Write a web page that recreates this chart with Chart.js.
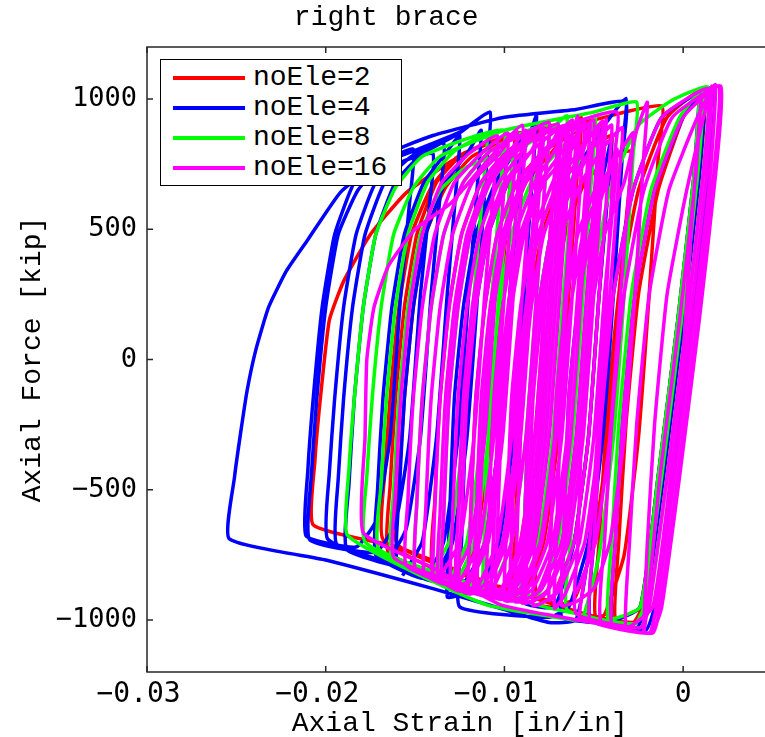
<!DOCTYPE html>
<html>
<head>
<meta charset="utf-8">
<title>right brace</title>
<script src="https://cdn.jsdelivr.net/npm/chart.js@4.4.1/dist/chart.umd.min.js"></script>
<style>
    html, body { margin: 0; padding: 0; background: #fff; overflow: hidden; }
    #wrap { position: relative; width: 800px; height: 760px; }
    #legend {
        position: absolute; left: 160px; top: 59px; width: 242px; height: 127px;
        border: 1.5px solid #000; background: #fff; box-sizing: border-box;
    }
    .leg-row { position: absolute; left: 0; height: 30px; width: 100%; }
    .leg-line { position: absolute; left: 12px; top: 13px; width: 72px; height: 4px; }
    .leg-text {
        position: absolute; left: 92px; top: 0; line-height: 30px;
        font-family: "Liberation Mono", "Courier New", monospace; font-size: 28px; color: #000;
        white-space: nowrap;
    }
</style>
</head>
<body>
<div id="wrap">
    <canvas id="chart" width="800" height="760"></canvas>
    <div id="legend"></div>
</div>
<script>
// series names / colours (legend order)
const seriesNames = ['noEle=2', 'noEle=4', 'noEle=8', 'noEle=16'];
const seriesColors = ['#ff0000', '#0000ff', '#00ff00', '#ff00ff'];

// axis ticks (trailing space keeps the digits centred on the tick, as in the original)
const xTicks = [-0.03, -0.02, -0.01, 0];
const xTickLabels = ['\u22120.03 ', '\u22120.02 ', '\u22120.01 ', '0'];
const yTicks = [-1000, -500, 0, 500, 1000];
const yTickLabels = ['\u22121000', '\u2212500', '0', '500', '1000'];

// hysteresis paths, [axial strain, axial force]
const redPath = [
    [0,0],[0.0004,450],[0.0009,980],
    [0.0006,700],[-0.0003,150],[-0.0014,-450],[-0.0024,-950],[-0.0038,-995],
    [-0.0036,-700],[-0.0032,-250],[-0.0025,250],[-0.0014,650],[0.0000,930],[0.0010,1035],
    [0.0007,700],[-0.0002,150],[-0.0013,-450],[-0.0023,-950],[-0.0028,-1010],[-0.0049,-988],
    [-0.0047,-700],[-0.0043,-250],[-0.0036,250],[-0.0025,650],[-0.0009,930],[0.0012,1040],
    [0.0009,700],[0.0000,150],[-0.0011,-450],[-0.0021,-950],[-0.0026,-1010],[-0.0055,-980],[-0.0082,-900],
    [-0.0081,-650],[-0.0078,-150],[-0.0073,200],[-0.0066,480],[-0.0055,680],[-0.0040,780],[-0.0029,800],
    [-0.0031,600],[-0.0036,250],[-0.0042,-300],[-0.0050,-700],[-0.0061,-920],[-0.0075,-950],[-0.0115,-880],
    [-0.0114,-630],[-0.0111,-150],[-0.0106,200],[-0.0099,480],[-0.0088,680],[-0.0073,800],[-0.0057,930],
    [-0.0059,730],[-0.0064,250],[-0.0070,-300],[-0.0078,-700],[-0.0089,-880],[-0.0110,-860],[-0.0160,-710],
    [-0.0159,-460],[-0.0156,-150],[-0.0151,200],[-0.0144,480],[-0.0133,660],[-0.0118,780],[-0.0090,860],[-0.0050,920],[-0.0012,973],
    [-0.0014,773],[-0.0019,250],[-0.0025,-300],[-0.0033,-750],[-0.0044,-980],[-0.0049,-988],
    [-0.0100,-880],[-0.0160,-720],[-0.0207,-635],
    [-0.0206,-385],[-0.0203,-150],[-0.0198,150],[-0.0190,300],[-0.0175,480],[-0.0155,640],[-0.0130,760],[-0.0110,830],[-0.0090,870],
    [-0.0092,670],[-0.0097,250],[-0.0103,-300],[-0.0111,-700],[-0.0122,-850],[-0.0168,-690],
    [-0.0167,-440],[-0.0164,-150],[-0.0159,200],[-0.0152,480],[-0.0141,660],[-0.0126,780],[-0.0095,860],
    [-0.0097,660],[-0.0102,250],[-0.0108,-300],[-0.0116,-700],[-0.0127,-840],[-0.0165,-740],
    [-0.0164,-490],[-0.0161,-150],[-0.0156,200],[-0.0149,480],[-0.0138,680],[-0.0123,790],[-0.0090,870],[-0.0070,900],
    [-0.0072,700],[-0.0077,250],[-0.0083,-300],[-0.0091,-700],[-0.0102,-890],[-0.0140,-800],
    [-0.0139,-550],[-0.0136,-150],[-0.0131,200],[-0.0124,480],[-0.0113,680],[-0.0098,800],[-0.0080,870],
    [-0.0082,670],[-0.0087,250],[-0.0093,-300],[-0.0101,-700],[-0.0112,-870],[-0.0120,-860],
    [-0.0119,-610],[-0.0116,-150],[-0.0111,200],[-0.0104,480],[-0.0093,680],[-0.0078,800],[-0.0060,870],[-0.0045,900],
    [-0.0047,700],[-0.0052,250],[-0.0058,-300],[-0.0066,-700],[-0.0077,-900],[-0.0095,-910],
    [-0.0094,-660],[-0.0091,-150],[-0.0086,200],[-0.0079,480],[-0.0068,680],[-0.0053,800],[-0.0040,860],
    [-0.0042,660],[-0.0047,250],[-0.0053,-300],[-0.0061,-700],[-0.0072,-900]
];

const bluePath = [
    [0,0],[0.0004,450],[0.0009,1000],
    [0.0006,700],[-0.0003,150],[-0.0014,-450],[-0.0024,-950],[-0.0040,-1000],
    [-0.0038,-700],[-0.0034,-250],[-0.0027,250],[-0.0016,650],[0.0000,930],[0.0012,1035],
    [0.0009,700],[0.0000,150],[-0.0011,-450],[-0.0021,-950],[-0.0026,-1030],[-0.0052,-1000],
    [-0.0050,-700],[-0.0046,-250],[-0.0039,250],[-0.0028,650],[-0.0012,930],[0.0017,1045],
    [0.0014,700],[0.0005,150],[-0.0006,-450],[-0.0016,-950],[-0.0021,-1040],[-0.0050,-1010],[-0.0068,-990],
    [-0.0067,-740],[-0.0064,-150],[-0.0059,200],[-0.0052,480],[-0.0045,700],[-0.0040,850],
    [-0.0042,650],[-0.0047,250],[-0.0053,-300],[-0.0061,-700],[-0.0072,-950],[-0.0090,-930],
    [-0.0089,-680],[-0.0086,-150],[-0.0081,200],[-0.0074,480],[-0.0063,680],[-0.0048,860],[-0.0032,1003],
    [-0.0034,803],[-0.0039,250],[-0.0045,-300],[-0.0053,-700],[-0.0064,-950],[-0.0075,-990],[-0.0125,-950],
    [-0.0124,-700],[-0.0121,-150],[-0.0116,200],[-0.0109,480],[-0.0098,680],[-0.0088,820],[-0.0082,938],
    [-0.0084,738],[-0.0089,250],[-0.0095,-300],[-0.0103,-700],[-0.0114,-880],[-0.0125,-905],[-0.0132,-912],
    [-0.0131,-662],[-0.0128,-150],[-0.0123,200],[-0.0116,480],[-0.0105,680],[-0.0095,790],[-0.0090,850],
    [-0.0092,650],[-0.0097,250],[-0.0103,-300],[-0.0111,-700],[-0.0122,-850],[-0.0140,-830],[-0.0188,-731],
    [-0.0187,-481],[-0.0184,-150],[-0.0179,200],[-0.0172,480],[-0.0161,680],[-0.0146,790],[-0.0125,870],[-0.0108,950],
    [-0.0110,750],[-0.0115,250],[-0.0121,-300],[-0.0129,-700],[-0.0140,-830],[-0.0165,-780],[-0.0194,-708],
    [-0.0193,-458],[-0.0190,-150],[-0.0185,200],[-0.0178,480],[-0.0167,680],[-0.0152,780],[-0.0134,830],
    [-0.0136,630],[-0.0141,250],[-0.0147,-300],[-0.0155,-650],[-0.0166,-770],[-0.0199,-688],
    [-0.0198,-438],[-0.0195,-150],[-0.0190,200],[-0.0183,480],[-0.0172,680],[-0.0157,760],[-0.0140,790],
    [-0.0142,590],[-0.0147,250],[-0.0153,-300],[-0.0161,-630],[-0.0172,-740],[-0.0209,-692],
    [-0.0208,-442],[-0.0205,-150],[-0.0200,200],[-0.0193,480],[-0.0182,650],[-0.0167,760],[-0.0151,808],
    [-0.0153,608],[-0.0158,250],[-0.0164,-300],[-0.0172,-620],[-0.0183,-720],[-0.0211,-677],
    [-0.0210,-427],[-0.0207,-150],[-0.0202,200],[-0.0195,480],[-0.0184,680],[-0.0169,780],[-0.0140,860],[-0.0100,930],[-0.0060,960],[-0.0032,990],
    [-0.0034,790],[-0.0039,250],[-0.0045,-300],[-0.0053,-750],[-0.0060,-1000],[-0.0075,-1010],
    [-0.0100,-960],[-0.0140,-880],[-0.0200,-770],[-0.0254,-688],
    [-0.0251,-450],[-0.0248,-300],[-0.0244,-120],[-0.0239,40],[-0.0232,200],[-0.0222,340],[-0.0210,460],[-0.0192,640],[-0.0174,740],[-0.0151,800],[-0.0125,873],[-0.0108,950],
    [-0.0110,750],[-0.0115,250],[-0.0121,-300],[-0.0129,-700],[-0.0140,-850],[-0.0160,-780],
    [-0.0159,-530],[-0.0156,-150],[-0.0151,200],[-0.0144,480],[-0.0133,680],[-0.0120,800],[-0.0113,880],
    [-0.0115,680],[-0.0120,250],[-0.0126,-300],[-0.0134,-700],[-0.0145,-840],[-0.0172,-750],
    [-0.0171,-500],[-0.0168,-150],[-0.0163,200],[-0.0156,480],[-0.0145,680],[-0.0132,800],[-0.0125,860],
    [-0.0127,660],[-0.0132,250],[-0.0138,-300],[-0.0146,-700],[-0.0157,-830]
];

const greenPath = [
    [0,0],[0.0004,450],[0.0009,990],
    [0.0006,700],[-0.0003,150],[-0.0014,-450],[-0.0024,-950],[-0.0042,-995],
    [-0.0040,-700],[-0.0036,-250],[-0.0029,250],[-0.0018,650],[-0.0002,930],[0.0011,1035],
    [0.0008,700],[-0.0001,150],[-0.0012,-450],[-0.0022,-950],[-0.0027,-1015],[-0.0065,-960],
    [-0.0063,-700],[-0.0059,-250],[-0.0052,250],[-0.0041,650],[-0.0025,900],[-0.0005,1000],[0.0014,1045],
    [0.0011,700],[0.0002,150],[-0.0009,-450],[-0.0019,-950],[-0.0024,-1030],[-0.0060,-975],[-0.0090,-920],
    [-0.0089,-670],[-0.0086,-150],[-0.0081,200],[-0.0074,480],[-0.0063,680],[-0.0055,820],[-0.0049,923],
    [-0.0051,723],[-0.0056,250],[-0.0062,-300],[-0.0070,-700],[-0.0081,-900],[-0.0100,-900],[-0.0135,-840],
    [-0.0134,-590],[-0.0131,-150],[-0.0126,200],[-0.0119,480],[-0.0108,680],[-0.0093,800],[-0.0075,880],[-0.0065,935],
    [-0.0067,735],[-0.0072,250],[-0.0078,-300],[-0.0086,-700],[-0.0097,-900],[-0.0120,-870],[-0.0163,-760],
    [-0.0162,-510],[-0.0159,-150],[-0.0154,200],[-0.0147,480],[-0.0136,650],[-0.0121,740],[-0.0096,792],
    [-0.0098,592],[-0.0103,250],[-0.0109,-300],[-0.0117,-700],[-0.0128,-850],[-0.0178,-700],
    [-0.0177,-450],[-0.0174,-150],[-0.0169,200],[-0.0162,480],[-0.0151,660],[-0.0136,780],[-0.0100,880],[-0.0050,950],[-0.0026,988],
    [-0.0028,788],[-0.0033,250],[-0.0039,-300],[-0.0047,-750],[-0.0056,-990],[-0.0062,-1000],
    [-0.0110,-942],[-0.0150,-820],[-0.0188,-673],
    [-0.0187,-423],[-0.0184,-150],[-0.0179,200],[-0.0172,480],[-0.0161,660],[-0.0146,780],[-0.0120,850],[-0.0100,880],
    [-0.0102,680],[-0.0107,250],[-0.0113,-300],[-0.0121,-700],[-0.0132,-850],[-0.0150,-800],
    [-0.0149,-550],[-0.0146,-150],[-0.0141,200],[-0.0134,480],[-0.0123,680],[-0.0108,800],[-0.0090,870],[-0.0075,900],
    [-0.0077,700],[-0.0082,250],[-0.0088,-300],[-0.0096,-700],[-0.0107,-880],[-0.0112,-885],
    [-0.0111,-635],[-0.0108,-150],[-0.0103,200],[-0.0096,480],[-0.0085,680],[-0.0070,800],[-0.0060,860],
    [-0.0062,660],[-0.0067,250],[-0.0073,-300],[-0.0081,-700],[-0.0092,-900],[-0.0170,-730],
    [-0.0169,-480],[-0.0166,-150],[-0.0161,200],[-0.0154,480],[-0.0143,680],[-0.0128,800],[-0.0110,860],
    [-0.0112,660],[-0.0117,250],[-0.0123,-300],[-0.0131,-700],[-0.0142,-830]
];

const magentaPath = [
    [0,0],[0.0004,450],[0.0010,1000],
    [0.0007,700],[-0.0002,150],[-0.0013,-450],[-0.0020,-950],[-0.0022,-1045],
    [-0.0020,-700],[-0.0016,-250],[-0.0009,250],[0.0002,650],[0.0016,1050],
    [0.0013,700],[0.0004,150],[-0.0007,-450],[-0.0017,-950],[-0.0032,-1030],
    [-0.0030,-700],[-0.0026,-250],[-0.0019,250],[-0.0008,650],[0.0008,930],[0.0018,1055],
    [0.0015,700],[0.0006,150],[-0.0005,-450],[-0.0015,-950],[-0.0019,-1050],[-0.0040,-1015],
    [-0.0038,-700],[-0.0034,-250],[-0.0027,250],[-0.0016,650],[0.0000,930],[0.0020,1050],
    [0.0017,700],[0.0008,150],[-0.0003,-450],[-0.0013,-950],[-0.0017,-1050],[-0.0046,-1005],
    [-0.0044,-700],[-0.0040,-250],[-0.0033,250],[-0.0022,650],[-0.0006,930],[0.0021,1050],
    [0.0018,700],[0.0009,150],[-0.0002,-450],[-0.0012,-950],[-0.0018,-1050],[-0.0052,-1000],
    [-0.0050,-700],[-0.0046,-250],[-0.0039,250],[-0.0028,650],[-0.0012,930],[0.0014,1040],
    [0.0011,700],[0.0002,150],[-0.0009,-450],[-0.0019,-950],[-0.0024,-1030],[-0.0060,-975],
    [-0.0059,-725],[-0.0056,-150],[-0.0051,200],[-0.0044,480],[-0.0033,680],[-0.0026,880],[-0.0020,988],
    [-0.0022,788],[-0.0027,250],[-0.0033,-300],[-0.0041,-700],[-0.0050,-880],[-0.0060,-930],[-0.0068,-945],
    [-0.0067,-695],[-0.0064,-150],[-0.0059,200],[-0.0052,480],[-0.0043,680],[-0.0037,808],
    [-0.0039,608],[-0.0044,250],[-0.0050,-300],[-0.0058,-700],[-0.0069,-880],[-0.0075,-925],
    [-0.0074,-675],[-0.0071,-150],[-0.0066,200],[-0.0059,480],[-0.0048,680],[-0.0043,923],
    [-0.0045,723],[-0.0050,250],[-0.0056,-300],[-0.0064,-700],[-0.0075,-880],[-0.0083,-925],[-0.0088,-930],
    [-0.0087,-680],[-0.0084,-150],[-0.0079,200],[-0.0072,480],[-0.0061,680],[-0.0052,800],[-0.0047,900],
    [-0.0049,700],[-0.0054,250],[-0.0060,-300],[-0.0068,-700],[-0.0079,-880],[-0.0089,-925],[-0.0094,-930],
    [-0.0093,-680],[-0.0090,-150],[-0.0085,200],[-0.0078,480],[-0.0067,680],[-0.0056,800],[-0.0052,905],
    [-0.0054,705],[-0.0059,250],[-0.0065,-300],[-0.0073,-700],[-0.0084,-880],[-0.0094,-925],[-0.0100,-925],
    [-0.0099,-675],[-0.0096,-150],[-0.0091,200],[-0.0084,480],[-0.0073,680],[-0.0064,820],[-0.0059,935],
    [-0.0061,735],[-0.0066,250],[-0.0072,-300],[-0.0080,-700],[-0.0091,-880],[-0.0101,-920],[-0.0105,-915],
    [-0.0104,-665],[-0.0101,-150],[-0.0096,200],[-0.0089,480],[-0.0078,680],[-0.0063,800],[-0.0055,915],
    [-0.0057,715],[-0.0062,250],[-0.0068,-300],[-0.0076,-700],[-0.0087,-880],[-0.0100,-920],[-0.0110,-905],
    [-0.0109,-655],[-0.0106,-150],[-0.0101,200],[-0.0094,480],[-0.0083,680],[-0.0072,800],[-0.0064,900],
    [-0.0066,700],[-0.0071,250],[-0.0077,-300],[-0.0085,-700],[-0.0096,-880],[-0.0106,-915],[-0.0115,-895],
    [-0.0114,-645],[-0.0111,-150],[-0.0106,200],[-0.0099,480],[-0.0088,680],[-0.0076,800],[-0.0068,895],
    [-0.0070,695],[-0.0075,250],[-0.0081,-300],[-0.0089,-700],[-0.0100,-880],[-0.0110,-910],[-0.0120,-885],
    [-0.0119,-635],[-0.0116,-150],[-0.0111,200],[-0.0104,480],[-0.0093,680],[-0.0078,800],[-0.0062,920],
    [-0.0064,720],[-0.0069,250],[-0.0075,-300],[-0.0083,-700],[-0.0094,-880],[-0.0108,-910],[-0.0125,-875],
    [-0.0124,-625],[-0.0121,-150],[-0.0116,200],[-0.0109,480],[-0.0098,680],[-0.0085,800],[-0.0078,890],
    [-0.0080,690],[-0.0085,250],[-0.0091,-300],[-0.0099,-700],[-0.0110,-880],[-0.0120,-900],[-0.0130,-860],
    [-0.0129,-610],[-0.0126,-150],[-0.0121,200],[-0.0114,480],[-0.0103,680],[-0.0090,800],[-0.0083,885],
    [-0.0085,685],[-0.0090,250],[-0.0096,-300],[-0.0104,-700],[-0.0115,-870],[-0.0125,-890],[-0.0135,-850],
    [-0.0134,-600],[-0.0131,-150],[-0.0126,200],[-0.0119,480],[-0.0108,680],[-0.0093,800],[-0.0070,905],
    [-0.0072,705],[-0.0077,250],[-0.0083,-300],[-0.0091,-700],[-0.0102,-880],[-0.0118,-890],[-0.0140,-835],
    [-0.0139,-585],[-0.0136,-150],[-0.0131,200],[-0.0124,480],[-0.0113,680],[-0.0098,790],[-0.0088,880],
    [-0.0090,680],[-0.0095,250],[-0.0101,-300],[-0.0109,-700],[-0.0120,-860],[-0.0130,-870],[-0.0145,-820],
    [-0.0144,-570],[-0.0141,-150],[-0.0136,200],[-0.0129,480],[-0.0118,680],[-0.0103,790],[-0.0093,875],
    [-0.0095,675],[-0.0100,250],[-0.0106,-300],[-0.0114,-700],[-0.0125,-850],[-0.0135,-860],[-0.0150,-800],
    [-0.0149,-550],[-0.0146,-150],[-0.0141,200],[-0.0134,480],[-0.0123,680],[-0.0108,800],[-0.0088,870],[-0.0075,910],
    [-0.0077,710],[-0.0082,250],[-0.0088,-300],[-0.0096,-700],[-0.0107,-880],[-0.0125,-880],[-0.0155,-790],
    [-0.0154,-540],[-0.0151,-150],[-0.0146,200],[-0.0139,480],[-0.0128,680],[-0.0113,790],[-0.0098,870],
    [-0.0100,670],[-0.0105,250],[-0.0111,-300],[-0.0119,-700],[-0.0130,-840],[-0.0162,-760],
    [-0.0161,-510],[-0.0158,-150],[-0.0153,200],[-0.0146,480],[-0.0135,680],[-0.0120,790],[-0.0104,860],
    [-0.0106,660],[-0.0111,250],[-0.0117,-300],[-0.0125,-700],[-0.0136,-830],[-0.0140,-830],
    [-0.0139,-580],[-0.0136,-150],[-0.0131,200],[-0.0124,480],[-0.0113,680],[-0.0098,800],[-0.0070,890],[-0.0037,950],
    [-0.0039,750],[-0.0043,250],[-0.0048,-300],[-0.0053,-750],[-0.0058,-990],[-0.0049,-1012],
    [-0.0102,-942],[-0.0140,-800],[-0.0179,-665],
    [-0.0178,-300],[-0.0177,0],[-0.0173,200],[-0.0165,358],[-0.0150,500],[-0.0130,600],[-0.0110,760],[-0.0090,900],
    [-0.0092,700],[-0.0097,250],[-0.0103,-300],[-0.0111,-700],[-0.0122,-860],[-0.0137,-840],
    [-0.0136,-590],[-0.0133,-150],[-0.0128,200],[-0.0121,480],[-0.0110,680],[-0.0095,800],[-0.0080,895],
    [-0.0082,695],[-0.0087,250],[-0.0093,-300],[-0.0101,-700],[-0.0112,-870],[-0.0127,-870],
    [-0.0126,-620],[-0.0123,-150],[-0.0118,200],[-0.0111,480],[-0.0100,680],[-0.0085,800],[-0.0066,900],
    [-0.0068,700],[-0.0073,250],[-0.0079,-300],[-0.0087,-700],[-0.0098,-890],[-0.0108,-900],[-0.0117,-890],
    [-0.0116,-640],[-0.0113,-150],[-0.0108,200],[-0.0101,480],[-0.0090,680],[-0.0075,810],[-0.0058,915],
    [-0.0060,715],[-0.0065,250],[-0.0071,-300],[-0.0079,-700],[-0.0090,-890],[-0.0100,-910],[-0.0107,-910],
    [-0.0106,-660],[-0.0103,-150],[-0.0098,200],[-0.0091,480],[-0.0080,680],[-0.0065,820],[-0.0050,920],
    [-0.0052,720],[-0.0057,250],[-0.0063,-300],[-0.0071,-700],[-0.0082,-900],[-0.0092,-925],[-0.0097,-925],
    [-0.0096,-675],[-0.0093,-150],[-0.0088,200],[-0.0081,480],[-0.0070,680],[-0.0055,830],[-0.0045,915],
    [-0.0047,715],[-0.0052,250],[-0.0058,-300],[-0.0066,-700],[-0.0077,-900],[-0.0085,-930],[-0.0090,-935],
    [-0.0089,-685],[-0.0086,-150],[-0.0081,200],[-0.0074,480],[-0.0063,680],[-0.0050,820],[-0.0040,900],
    [-0.0042,700],[-0.0047,250],[-0.0053,-300],[-0.0061,-700],[-0.0072,-900],[-0.0079,-935],[-0.0084,-945],
    [-0.0083,-695],[-0.0080,-150],[-0.0075,200],[-0.0068,480],[-0.0057,680],[-0.0044,820],[-0.0034,890],
    [-0.0036,690],[-0.0041,250],[-0.0047,-300],[-0.0055,-700],[-0.0066,-900],[-0.0072,-955],
    [-0.0071,-705],[-0.0068,-150],[-0.0063,200],[-0.0056,480],[-0.0045,680],[-0.0035,800],[-0.0028,870],
    [-0.0030,670],[-0.0035,250],[-0.0041,-300],[-0.0049,-700],[-0.0060,-900]
];

const paths = [redPath, bluePath, greenPath, magentaPath];

// legend (drawn as a boxed overlay inside the axes, like the original)
const legendEl = document.getElementById('legend');
seriesNames.forEach((name, i) => {
    const row = document.createElement('div');
    row.className = 'leg-row';
    row.style.top = (3 + i * 30) + 'px';
    row.innerHTML = `<div class="leg-line" style="background:${seriesColors[i]}"></div><div class="leg-text">${name}</div>`;
    legendEl.appendChild(row);
});

// box + inward ticks on all four sides
const frameTicks = {
    id: 'frameTicks',
    afterDraw(chart) {
        const { ctx, chartArea: a, scales } = chart;
        const len = 6;
        ctx.save();
        ctx.strokeStyle = '#262626';
        ctx.lineWidth = 1.5;
        ctx.strokeRect(a.left, a.top, a.right - a.left, a.bottom - a.top);
        ctx.beginPath();
        xTicks.forEach(v => {
            const px = scales.x.getPixelForValue(v);
            ctx.moveTo(px, a.bottom); ctx.lineTo(px, a.bottom - len);
            ctx.moveTo(px, a.top); ctx.lineTo(px, a.top + len);
        });
        yTicks.forEach(v => {
            const py = scales.y.getPixelForValue(v);
            ctx.moveTo(a.left, py); ctx.lineTo(a.left + len, py);
            ctx.moveTo(a.right, py); ctx.lineTo(a.right - len, py);
        });
        ctx.stroke();
        ctx.restore();
    }
};

const monoSerif = "'Liberation Mono', 'Courier New', monospace";
const monoSans = "'DejaVu Sans Mono', monospace";

new Chart(document.getElementById('chart'), {
    type: 'scatter',
    data: {
        datasets: paths.map((p, i) => ({
            label: seriesNames[i],
            data: p.map(([x, y]) => ({ x, y })),
            showLine: true,
            borderColor: seriesColors[i],
            backgroundColor: seriesColors[i],
            borderWidth: 3.5,
            pointRadius: 0,
            tension: 0.15,
            borderJoinStyle: 'round',
            order: 3 - i   // last series drawn on top
        }))
    },
    options: {
        responsive: false,
        animation: false,
        devicePixelRatio: 1,
        layout: { padding: { left: 0, right: 27.5, top: 0, bottom: 0 } },
        plugins: {
            legend: { display: false },
            tooltip: { enabled: false },
            title: {
                display: true,
                text: 'right brace',
                color: '#000',
                font: { family: monoSerif, size: 28, weight: 'normal' },
                padding: { top: 1, bottom: 12.4 }
            }
        },
        scales: {
            x: {
                type: 'linear',
                min: -0.03,
                max: 0.005,
                afterBuildTicks: s => { s.ticks = xTicks.map(v => ({ value: v })); },
                afterFit: s => { s.height = 88; },
                ticks: {
                    callback: (v, i) => xTickLabels[i],
                    color: '#000',
                    font: { family: monoSans, size: 28 },
                    padding: 6,
                    maxRotation: 0,
                    autoSkip: false
                },
                grid: { display: false, drawTicks: false },
                border: { display: false },
                title: {
                    display: true,
                    text: 'Axial Strain [in/in]',
                    color: '#000',
                    font: { family: monoSerif, size: 28 },
                    padding: { top: 0, bottom: 19.5 }
                }
            },
            y: {
                type: 'linear',
                min: -1200,
                max: 1200,
                afterBuildTicks: s => { s.ticks = yTicks.map(v => ({ value: v })); },
                afterFit: s => { s.width = 147; },
                ticks: {
                    callback: (v, i) => yTickLabels[i],
                    color: '#000',
                    font: { family: monoSans, size: 27 },
                    padding: 10
                },
                grid: { display: false, drawTicks: false },
                border: { display: false },
                title: {
                    display: true,
                    text: 'Axial Force [kip]',
                    color: '#000',
                    font: { family: monoSerif, size: 28 },
                    padding: { top: 16, bottom: 0 }
                }
            }
        }
    },
    plugins: [frameTicks]
});
</script>
</body>
</html>
